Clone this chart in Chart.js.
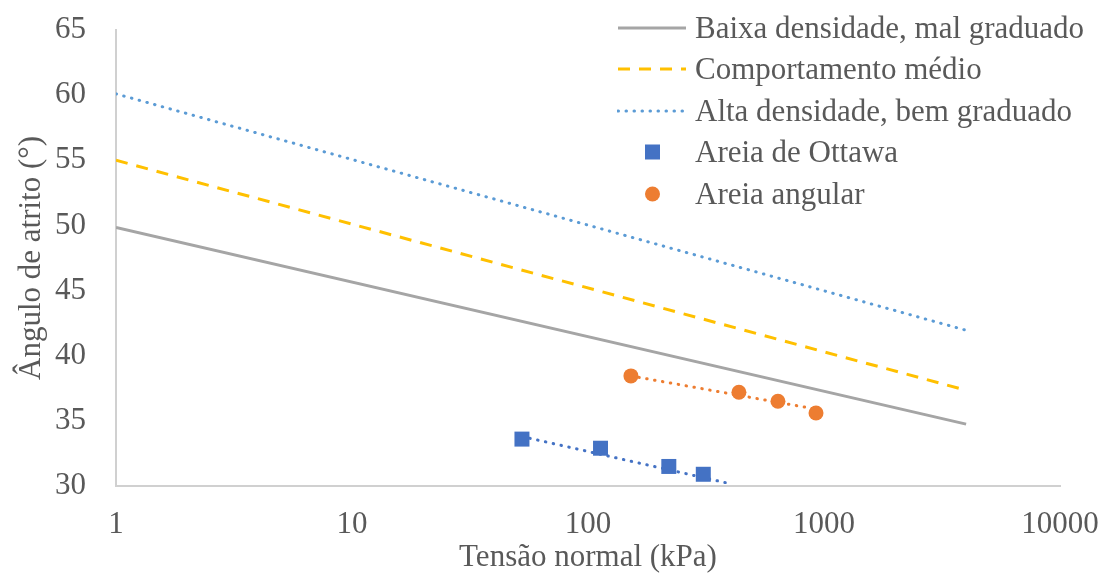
<!DOCTYPE html>
<html>
<head>
<meta charset="utf-8">
<script src="https://cdn.jsdelivr.net/npm/chart.js@4.4.1/dist/chart.umd.min.js"></script>
<style>
  html, body { margin: 0; padding: 0; background: #fff; }
  #wrap { position: relative; width: 1107px; height: 577px; }
  #legend { position: absolute; left: 617px; top: 7px; font-family: "Liberation Serif", "Times New Roman", serif; font-size: 31px; color: #595959; }
  #legend .row { display: flex; align-items: center; height: 41.5px; white-space: nowrap; }
  #legend svg { width: 70px; height: 20px; margin-right: 8px; flex: none; }
</style>
</head>
<body>
<div id="wrap">
  <canvas id="chart" width="1107" height="577"></canvas>
  <div id="legend"></div>
</div>
<script>
// Data
const xTicks = [1, 10, 100, 1000, 10000];

const baixaX = [1, 4000];
const baixaY = [49.85, 34.75];

const medioX = [1, 4000];
const medioY = [55.0, 37.35];

const altaX = [1, 4000];
const altaY = [60.1, 41.95];

const ottawaX = [52.5, 113, 220, 308];
const ottawaY = [33.6, 32.9, 31.5, 30.9];
const ottawaTrendX = [52.5, 395];
const ottawaTrendY = [33.8, 30.2];

const angularX = [152, 436, 638, 925];
const angularY = [38.45, 37.2, 36.5, 35.6];
const angularTrendX = [152, 925];
const angularTrendY = [38.45, 35.9];

const toPts = (xs, ys) => xs.map((x, i) => ({ x: x, y: ys[i] }));

const FONT = { family: '"Liberation Serif", "Times New Roman", serif', size: 31 };
const TXT = '#595959';

const datasets = [
  { label: 'Baixa densidade, mal graduado', data: toPts(baixaX, baixaY), showLine: true,
    borderColor: '#a5a5a5', borderWidth: 3, pointRadius: 0, order: 5 },
  { label: 'Comportamento médio', data: toPts(medioX, medioY), showLine: true,
    borderColor: '#ffc000', borderWidth: 3, borderDash: [12, 9], pointRadius: 0, order: 5 },
  { label: 'Alta densidade, bem graduado', data: toPts(altaX, altaY), showLine: true,
    borderColor: '#5b9bd5', borderWidth: 3, borderDash: [0.5, 7.5], borderCapStyle: 'round', pointRadius: 0, order: 5 },
  { label: 'Areia de Ottawa', data: toPts(ottawaX, ottawaY), showLine: false,
    backgroundColor: '#4472c4', borderColor: '#4472c4', pointStyle: 'rect', pointRadius: 10.6, borderWidth: 0, order: 1 },
  { label: 'Areia angular', data: toPts(angularX, angularY), showLine: false,
    backgroundColor: '#ed7d31', borderColor: '#ed7d31', pointStyle: 'circle', pointRadius: 7.5, borderWidth: 0, order: 1 },
  { label: 'trend-ottawa', data: toPts(ottawaTrendX, ottawaTrendY), showLine: true,
    borderColor: '#4472c4', borderWidth: 3, borderDash: [0.5, 7.5], borderCapStyle: 'round', pointRadius: 0, order: 3 },
  { label: 'trend-angular', data: toPts(angularTrendX, angularTrendY), showLine: true,
    borderColor: '#ed7d31', borderWidth: 3, borderDash: [0.5, 7.5], borderCapStyle: 'round', pointRadius: 0, order: 3 }
];

// keep the plot area where the reference has it
const noPad = s => { s.paddingTop = 0; s.paddingBottom = 0; s.paddingLeft = 0; s.paddingRight = 0; };

new Chart(document.getElementById('chart'), {
  type: 'scatter',
  data: { datasets: datasets },
  options: {
    responsive: false,
    animation: false,
    devicePixelRatio: 1,
    layout: { padding: { left: 0, right: 47, top: 30, bottom: 0 } },
    plugins: { legend: { display: false }, tooltip: { enabled: false } },
    scales: {
      x: {
        type: 'logarithmic', min: 1, max: 10000,
        afterBuildTicks: s => { s.ticks = xTicks.map(v => ({ value: v })); },
        afterFit: s => { s.height = 91; noPad(s); },
        grid: { display: false, drawTicks: false },
        border: { display: true, color: '#d0d0d0', width: 2 },
        ticks: { autoSkip: false, maxRotation: 0, padding: 20, color: TXT, font: FONT,
                 callback: v => String(v) },
        title: { display: true, text: 'Tensão normal (kPa)', color: TXT, font: FONT, padding: { top: 0, bottom: 1 } }
      },
      y: {
        min: 30, max: 65,
        afterFit: s => { s.width = 116; noPad(s); },
        grid: { display: false, drawTicks: false },
        border: { display: true, color: '#d0d0d0', width: 2 },
        ticks: { stepSize: 5, padding: 30, color: TXT, font: FONT },
        title: { display: true, text: 'Ângulo de atrito (°)', color: TXT, font: FONT, padding: { top: 13, bottom: 0 } }
      }
    }
  }
});

// HTML legend for the first five series
const legend = document.getElementById('legend');
datasets.slice(0, 5).forEach(ds => {
  let sample;
  if (ds.showLine) {
    const dash = ds.borderDash ? `stroke-dasharray="${ds.borderDash.join(' ')}"` : '';
    const cap = ds.borderCapStyle === 'round' ? 'stroke-linecap="round"' : '';
    sample = `<line x1="1" y1="10" x2="69" y2="10" stroke="${ds.borderColor}" stroke-width="3" ${dash} ${cap}/>`;
  } else if (ds.pointStyle === 'rect') {
    sample = `<rect x="28" y="2.5" width="15" height="15" fill="${ds.backgroundColor}"/>`;
  } else {
    sample = `<circle cx="35.5" cy="10" r="7.5" fill="${ds.backgroundColor}"/>`;
  }
  const row = document.createElement('div');
  row.className = 'row';
  row.innerHTML = `<svg viewBox="0 0 70 20">${sample}</svg><span>${ds.label}</span>`;
  legend.appendChild(row);
});
</script>
</body>
</html>
